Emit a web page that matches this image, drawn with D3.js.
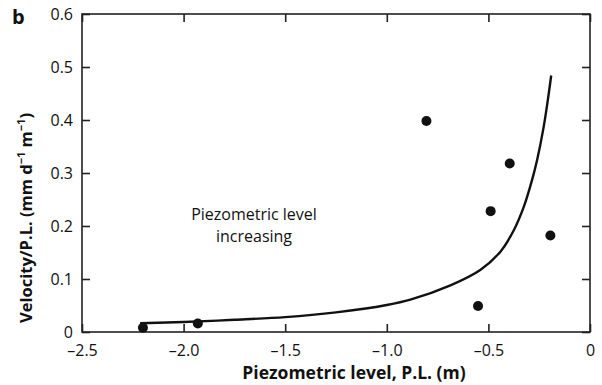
<!DOCTYPE html>
<html>
<head>
<meta charset="utf-8">
<script src="https://cdn.jsdelivr.net/npm/d3@7"></script>
<style>
body { margin: 0; background: #fff; }
svg { display: block; }
text { font-family: "Open Sans", "Noto Sans", sans-serif; fill: #111; }
</style>
</head>
<body>
<svg id="chart" width="602" height="385"></svg>
<script>
// Data
const pointX = [-2.2, -1.93, -0.805, -0.395, -0.489, -0.195, -0.551];
const pointY = [0.008, 0.016, 0.398, 0.318, 0.228, 0.182, 0.049];

const curveX = [-2.214, -2.0, -1.75, -1.5, -1.25, -1.0, -0.884, -0.687, -0.54, -0.44, -0.375, -0.326, -0.285, -0.260, -0.228, -0.203, -0.191];
const curveY = [0.0165, 0.019, 0.023, 0.028, 0.037, 0.051, 0.061, 0.088, 0.117, 0.152, 0.192, 0.236, 0.287, 0.325, 0.387, 0.450, 0.484];

const xTicks = [-2.5, -2.0, -1.5, -1.0, -0.5, 0];
const yTicks = [0, 0.1, 0.2, 0.3, 0.4, 0.5, 0.6];

(function () {
const svg = d3.select("#chart");
const L = 82, R = 590, T = 14, B = 332;

const x = d3.scaleLinear().domain([-2.5, 0]).range([L, R]);
const y = d3.scaleLinear().domain([0, 0.6]).range([B, T]);

const fmtX = d => d === 0 ? "0" : d3.format(".1f")(d).replace("-", "\u2013").replace("\u2212", "\u2013");
const fmtY = d => d === 0 ? "0" : d3.format(".1f")(d);

const tickLen = 8;
const g = svg.append("g");

g.append("g").attr("transform", `translate(0,${B})`)
  .call(d3.axisBottom(x).tickValues(xTicks).tickSize(-tickLen).tickPadding(13).tickFormat(fmtX));
g.append("g").attr("transform", `translate(0,${T})`)
  .call(d3.axisTop(x).tickValues(xTicks).tickSize(-tickLen).tickFormat(""));
g.append("g").attr("transform", `translate(${L},0)`)
  .call(d3.axisLeft(y).tickValues(yTicks).tickSize(-tickLen).tickPadding(9).tickFormat(fmtY));
g.append("g").attr("transform", `translate(${R},0)`)
  .call(d3.axisRight(y).tickValues(yTicks).tickSize(-tickLen).tickFormat(""));

g.selectAll(".domain").remove();
g.selectAll(".tick line").attr("stroke", "#222").attr("stroke-width", 1.6);
g.selectAll(".tick text").attr("font-size", 16).attr("fill", "#111")
  .attr("font-family", "'Open Sans', 'Noto Sans', sans-serif");

svg.append("rect").attr("x", L).attr("y", T).attr("width", R - L).attr("height", B - T)
  .attr("fill", "none").attr("stroke", "#222").attr("stroke-width", 1.6);

const line = d3.line().x(d => x(d[0])).y(d => y(d[1])).curve(d3.curveCatmullRom.alpha(0.5));
svg.append("path").datum(d3.zip(curveX, curveY))
  .attr("d", line).attr("fill", "none").attr("stroke", "#111").attr("stroke-width", 2.4);

svg.append("g").selectAll("circle").data(d3.zip(pointX, pointY)).join("circle")
  .attr("cx", d => x(d[0])).attr("cy", d => y(d[1])).attr("r", 5).attr("fill", "#111");

const ann = svg.append("text").attr("text-anchor", "middle").attr("font-size", 16);
ann.append("tspan").attr("x", 254).attr("y", 220).text("Piezometric level");
ann.append("tspan").attr("x", 254).attr("y", 242).text("increasing");

svg.append("text").attr("x", 354).attr("y", 379).attr("text-anchor", "middle")
  .attr("font-size", 17.5).attr("font-weight", "bold").text("Piezometric level, P.L. (m)");

const yt = svg.append("text").attr("transform", "translate(32,218) rotate(-90)")
  .attr("text-anchor", "middle").attr("font-size", 16.5).attr("font-weight", "bold");
yt.append("tspan").text("Velocity/P.L. (mm d");
yt.append("tspan").attr("font-size", 11).attr("dy", -7).text("\u22121");
yt.append("tspan").attr("dy", 7).text(" m");
yt.append("tspan").attr("font-size", 11).attr("dy", -7).text("\u22121");
yt.append("tspan").attr("dy", 7).text(")");

svg.append("text").attr("x", 12).attr("y", 24).attr("font-size", 20).attr("font-weight", "bold").text("b");
})();
</script>
</body>
</html>
